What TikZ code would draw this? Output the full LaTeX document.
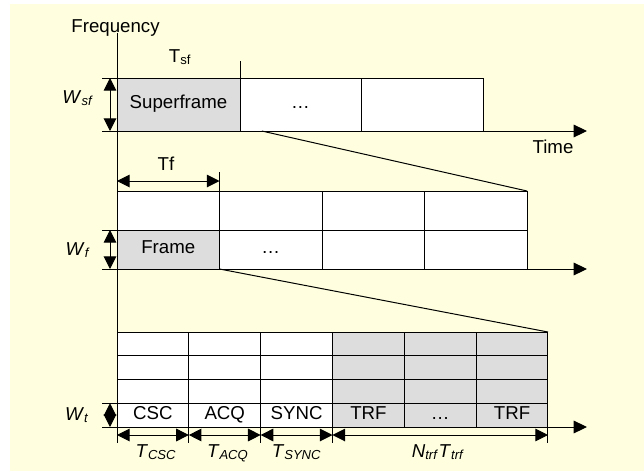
\documentclass[tikz,border=0pt]{standalone}
\usepackage{fontspec}
\setmainfont{Liberation Sans}
\usetikzlibrary{arrows.meta, calc}
\definecolor{paper}{HTML}{FFFFE0}
\definecolor{cellgray}{HTML}{DDDDDD}
\def\pxl{0.75pt}
\tikzset{
  cell/.style={draw, anchor=north west, inner sep=0pt, outer sep=0pt, fill=white, execute at begin node=\strut},
  sfcell/.style={cell, minimum height=53*\pxl},
  fcell/.style={cell, minimum width=102.5*\pxl, minimum height=39*\pxl},
  tcell/.style={cell, minimum width=71.83*\pxl, minimum height=23.75*\pxl},
  axistip/.style={-{Triangle[length=10pt,width=9.5pt]}},
  dimarrow/.style={{Triangle[length=9.5pt,width=9.5pt]}-{Triangle[length=9.5pt,width=9.5pt]}},
  lbl/.style={anchor=base, inner sep=0pt},
}

\begin{document}
\begin{tikzpicture}[x=0.75pt, y=-0.75pt, line width=0.75pt, font=\fontsize{14}{16.5}\selectfont]
  \useasboundingbox (0,0) rectangle (644,472);
  \fill[paper] (10,4) rectangle (644,471);
  % superframe
    \node[sfcell, fill=cellgray, minimum width=123*\pxl] (sf1) at (117,78) {Superframe};
    \node[sfcell, minimum width=121*\pxl] (sf2) at (sf1.north east) {…};
    \node[sfcell, minimum width=122*\pxl] (sf3) at (sf2.north east) {};
    \coordinate (time1) at (587,131);
    \draw[axistip] (sf1.south west) -- (time1);
    \node[lbl] (time) at (553,153) {Time};
    \draw (sf1.north east) -- ++(0,-17);
    \node[lbl] (tsf) at (180,62) {T\textsubscript{sf}};
    \draw (sf1.north west) -- ++(-15,0);
    \draw (sf1.south west) -- ++(-15,0);
    \draw[dimarrow] ($(sf1.north west)+(-7,0)$) -- ($(sf1.south west)+(-7,0)$);
    \node[lbl] (wsf) at (78,103) {\textit{W}\textsubscript{\textit{sf}}};
  % frame
    \foreach \c in {1,...,4}
      \node[fcell] (f1\c) at ({117+(\c-1)*102.5},191) {};
    \node[fcell, fill=cellgray] (f21) at (117,230) {Frame};
    \node[fcell] (f22) at (f21.north east) {…};
    \node[fcell] (f23) at (f22.north east) {};
    \node[fcell] (f24) at (f23.north east) {};
    \coordinate (time2) at (587,269);
    \draw[axistip] (f21.south west) -- (time2);
    \draw (f11.north east) -- ++(0,-19);
    \draw[dimarrow] ($(f11.north west)+(0,-10)$) -- ($(f11.north east)+(0,-10)$);
    \node[lbl] (tf) at (166,170) {Tf};
    \draw (f21.north west) -- ++(-15,0);
    \draw (f21.south west) -- ++(-15,0);
    \draw[dimarrow] ($(f21.north west)+(-7,0)$) -- ($(f21.south west)+(-7,0)$);
    \node[lbl] (wf) at (78,255) {\textit{W}\textsubscript{\textit{f}}};
    \draw ($(sf2.south west)!0.18!(sf2.south east)$) -- (f14.north east);
  % timeslots
    \foreach \c/\txt/\col in {1/CSC/white, 2/ACQ/white, 3/SYNC/white, 4/TRF/cellgray, 5/…/cellgray, 6/TRF/cellgray}{
      \foreach \r in {1,2,3}
        \node[tcell, fill=\col] (t\r\c) at ({117+(\c-1)*71.83},{332+(\r-1)*23.75}) {};
      \node[tcell, fill=\col] (t4\c) at ({117+(\c-1)*71.83},403.25) {\txt};
    }
    \coordinate (time3) at (587,427);
    \draw[axistip] (t41.south west) -- (time3);
    \draw (t41.north west) -- ++(-15,0);
    \draw (t41.south west) -- ++(-15,0);
    \draw[dimarrow] ($(t41.north west)+(-7,0)$) -- ($(t41.south west)+(-7,0)$);
    \node[lbl] (wt) at (77,420) {\textit{W}\textsubscript{\textit{t}}};
    \draw (f21.south east) -- (t16.north east);
    \draw (t41.south east) -- ++(0,16);
    \draw (t42.south east) -- ++(0,16);
    \draw (t43.south east) -- ++(0,16);
    \draw (t46.south east) -- ++(0,16);
    \draw[dimarrow] ($(t41.south west)+(0,8)$) -- ($(t41.south east)+(0,8)$);
    \draw[dimarrow] ($(t42.south west)+(0,8)$) -- ($(t42.south east)+(0,8)$);
    \draw[dimarrow] ($(t43.south west)+(0,8)$) -- ($(t43.south east)+(0,8)$);
    \draw[dimarrow] ($(t44.south west)+(0,8)$) -- ($(t46.south east)+(0,8)$);
    \node[lbl] (tcsc) at ($(t41.south)+(3,30)$) {\textit{T}\textsubscript{\textit{CSC}}};
    \node[lbl] (tacq) at ($(t42.south)+(3,30)$) {\textit{T}\textsubscript{\textit{ACQ}}};
    \node[lbl] (tsync) at ($(t43.south)+(0,30)$) {\textit{T}\textsubscript{\textit{SYNC}}};
    \node[lbl] (ntrf) at ($(t45.south)+(-2,30)$) {\textit{N}\textsubscript{\textit{trf}}\textit{T}\textsubscript{\textit{trf}}};
  % frequency axis
    \coordinate (ftop) at (117,33);
    \coordinate (fbot) at (117,443);
    \draw (ftop) -- (fbot);
    \node[lbl] (freq) at (115.5,32) {Frequency};
\end{tikzpicture}
\end{document}
